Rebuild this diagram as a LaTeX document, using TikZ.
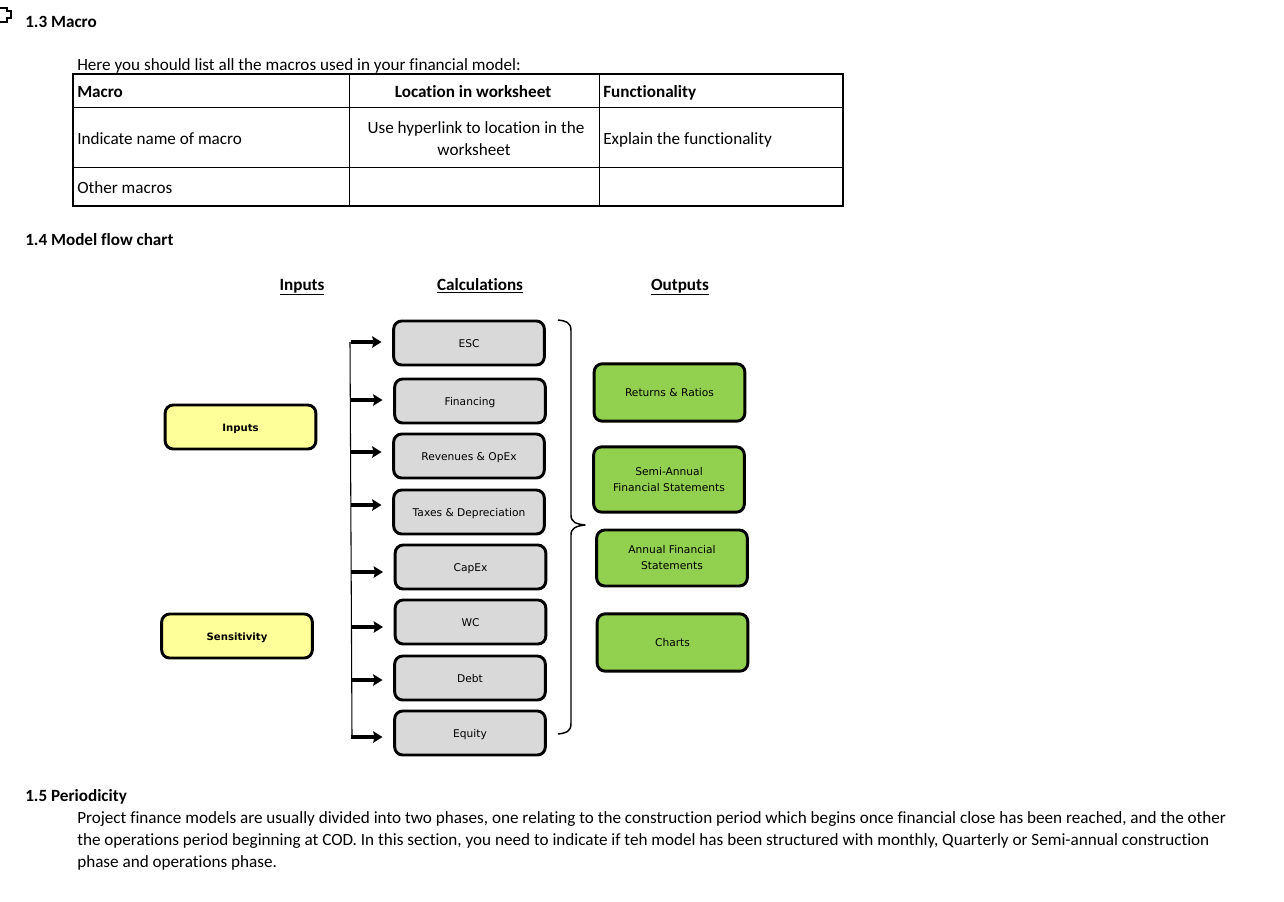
\documentclass[tikz,border=0pt]{standalone}
\usepackage{fontspec}
\setmainfont[Ligatures=CommonOff]{Carlito}
\newfontfamily\boxfont{DejaVu Sans}
\usetikzlibrary{arrows.meta}
\definecolor{calcgrey}{RGB}{217,217,217}
\definecolor{inputyellow}{RGB}{255,255,153}
\definecolor{outputgreen}{RGB}{146,208,80}
\tikzset{
  flowbox/.style={draw=black,line width=2.2pt,rounded corners=6pt,inner sep=0pt,align=center,
    font=\boxfont\fontsize{8}{12}\selectfont},
  oneline/.style={text height=6.5pt,text depth=0pt},
  calcbox/.style={flowbox,oneline,fill=calcgrey,minimum width=113pt,minimum height=33pt},
  inputbox/.style={flowbox,oneline,fill=inputyellow,minimum width=113pt,minimum height=33pt,
    font=\boxfont\bfseries\fontsize{7.6}{12}\selectfont},
  outputbox/.style={flowbox,fill=outputgreen,minimum width=113pt},
  feed/.style={line width=2.3pt,-{Stealth[length=7pt,width=8.5pt,inset=1pt]}},
  bodytext/.style={anchor=base west,inner sep=0pt,font=\fontsize{12.85}{16}\selectfont},
  headtext/.style={bodytext,font=\bfseries\fontsize{12.85}{16}\selectfont},
  coltext/.style={anchor=base,inner sep=0pt,font=\bfseries\fontsize{12.85}{16}\selectfont},
}
\begin{document}
\begin{tikzpicture}[x=0.75pt,y=-0.75pt]
    \useasboundingbox (0,0) rectangle (1284,901);
    % cursor
    \draw[line width=1.6pt,fill=white] (0,8) -- (7,8) -- (7,11) -- (11,11) -- (11,18) -- (7,18) -- (7,22) -- (0,22);
    % section 1.3
    \node[headtext] (macrotitle) at (25,27.5) {1.3 Macro};
    \node[bodytext] (macrointro) at (77,70) {Here you should list all the macros used in your financial model:};
    \draw[line width=1.5pt] (73,74) rectangle (843,206);
    \draw[line width=0.6pt] (73,107) -- (843,107);
    \draw[line width=0.6pt] (73,167) -- (843,167);
    \draw[line width=0.6pt] (349.5,74) -- (349.5,206);
    \draw[line width=0.6pt] (599.5,74) -- (599.5,206);
    \node[headtext] (macrohead) at (77,97) {Macro};
    \node[coltext] (lochead) at (473,97) {Location in worksheet};
    \node[headtext] (funchead) at (603,97) {Functionality};
    \node[bodytext] (macroname) at (77,144) {Indicate name of macro};
    \node[bodytext,anchor=base] (locline) at (476,133) {Use hyperlink to location in the};
    \node[bodytext,anchor=base] (locnext) at (474,155) {worksheet};
    \node[bodytext] (funcname) at (603,144) {Explain the functionality};
    \node[bodytext] (othermacro) at (77,193) {Other macros};
    % section 1.4
    \node[headtext] (flowtitle) at (25,245) {1.4 Model flow chart};
    \node[coltext] (inputhead) at (302,290) {\underline{Inputs}};
    \node[coltext] (calchead) at (480,290) {\underline{Calculations}};
    \node[coltext] (outputhead) at (680,290) {\underline{Outputs}};
    \node[inputbox] (inputs) at (240.5,427) {Inputs};
    \node[inputbox] (sens) at (237,636) {Sensitivity};
    \node[calcbox] (esc) at (469,343) {ESC};
    \node[calcbox] (fin) at (470,401) {Financing};
    \node[calcbox] (rev) at (469,456) {Revenues \& OpEx};
    \node[calcbox] (tax) at (469,512) {Taxes \& Depreciation};
    \node[calcbox] (capex) at (470.5,567) {CapEx};
    \node[calcbox] (wc) at (470.5,622) {WC};
    \node[calcbox] (debt) at (470,678) {Debt};
    \node[calcbox] (equity) at (470,733) {Equity};
    \node[outputbox,oneline,minimum height=43pt] (returns) at (669.5,392.5) {Returns \& Ratios};
    \node[outputbox,minimum height=49pt] (semi) at (669,479.5) {Semi-Annual\\Financial Statements};
    \node[outputbox,minimum height=42pt] (annual) at (672,558) {Annual Financial\\Statements};
    \node[outputbox,oneline,minimum height=43pt] (charts) at (672.5,642.5) {Charts};
    % feed lines
    \coordinate (top) at (350,342);
    \coordinate (bot) at (352,737);
    \draw[line width=0.8pt] (top) -- (bot);
    \foreach \b/\y in {esc/342,fin/400,rev/452,tax/505,capex/572,wc/627,debt/680,equity/737}
      \draw[feed,shorten >=8pt] (351,\y) -- (\b.west |- 351,\y);
    % brace
    \coordinate (bracetop) at (558,320);
    \coordinate (bracetip) at (585,525);
    \coordinate (bracebot) at (558,734);
    \draw[line width=1.1pt,line join=round] (bracetop) .. controls (566,321) and (571,322) .. (571,331)
      -- (571,515) .. controls (571,522) and (576,524) .. (bracetip)
      .. controls (576,526) and (571,528) .. (571,535)
      -- (571,723) .. controls (571,732) and (566,733) .. (bracebot);
    % section 1.5
    \node[headtext] (periodtitle) at (25,801) {1.5 Periodicity};
    \node[bodytext] (periodone) at (77,823) {Project finance models are usually divided into two phases, one relating to the construction period which begins once financial close has been reached, and the other};
    \node[bodytext] (periodtwo) at (77,845) {the operations period beginning at COD. In this section, you need to indicate if teh model has been structured with monthly, Quarterly or Semi-annual construction};
    \node[bodytext] (periodthree) at (77,867) {phase and operations phase.};
\end{tikzpicture}
\end{document}
